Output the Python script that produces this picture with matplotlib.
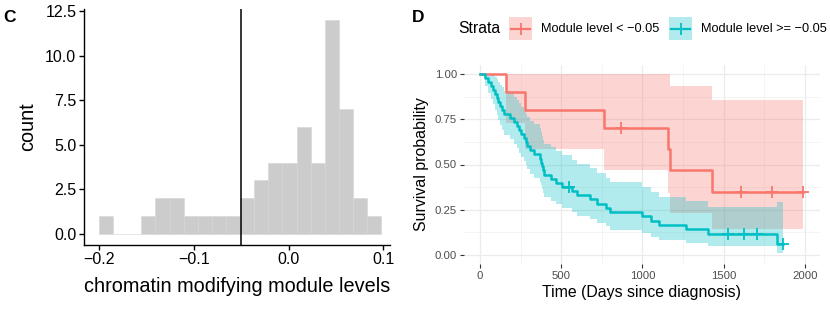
import numpy as np
import matplotlib
matplotlib.use("Agg")
import matplotlib.pyplot as plt
from matplotlib.patches import Rectangle
from matplotlib.lines import Line2D

plt.rcParams['font.family'] = ['Liberation Sans', 'DejaVu Sans']

# ---------------- Panel C data ----------------
hist_counts = [1, 0, 0, 1, 2, 2, 1, 1, 1, 1, 2, 3, 4, 4, 6, 4, 12, 7, 2, 1]
hist_min, hist_max = -0.2, 0.0977
threshold = -0.05
c_xticks = [-0.2, -0.1, 0.0, 0.1]
c_xticklabels = ['\u22120.2', '\u22120.1', '0.0', '0.1']
c_yticks = [0, 2.5, 5, 7.5, 10, 12.5]
c_yticklabels = ['0.0', '2.5', '5.0', '7.5', '10.0', '12.5']

# ---------------- Panel D data ----------------
low_times = [0, 160, 275, 765, 1159, 1171, 1430]
low_surv = [1.0, 0.9, 0.8, 0.7, 0.583, 0.467, 0.35]
low_upper = [1.0, 1.0, 1.0, 1.0, 1.0, 0.936, 0.858]
low_lower = [1.0, 0.732, 0.586, 0.467, 0.340, 0.233, 0.143]
low_censor = [870, 1608, 1795, 1990]

high_times = [0, 30, 50, 65, 80, 92, 103, 113, 123, 135, 150, 185, 210, 225, 240, 255, 268, 282,
              292, 305, 335, 372, 378, 383, 388, 393, 440, 470, 505, 565, 600, 675, 720, 775, 800,
              995, 1055, 1100, 1270, 1405, 1826]
high_surv = [1.0, 0.978, 0.956, 0.933, 0.911, 0.889, 0.867, 0.844, 0.822, 0.800, 0.778, 0.756,
             0.733, 0.711, 0.689, 0.667, 0.644, 0.622, 0.600, 0.578, 0.556, 0.533, 0.511, 0.489,
             0.467, 0.444, 0.422, 0.400, 0.378, 0.354, 0.331, 0.307, 0.283, 0.260, 0.236, 0.213,
             0.189, 0.165, 0.142, 0.118, 0.059]
high_upper = [1.0, 1.0, 1.0, 1.0, 0.998, 0.986, 0.972, 0.957, 0.942, 0.926, 0.909, 0.893, 0.874,
              0.857, 0.838, 0.820, 0.800, 0.781, 0.762, 0.742, 0.722, 0.700, 0.680, 0.659, 0.638,
              0.615, 0.594, 0.572, 0.550, 0.526, 0.503, 0.478, 0.453, 0.428, 0.402, 0.377, 0.350,
              0.322, 0.296, 0.267, 0.295]
high_lower = [1.0, 0.936, 0.897, 0.863, 0.832, 0.801, 0.773, 0.745, 0.718, 0.691, 0.665, 0.640,
              0.615, 0.590, 0.566, 0.543, 0.519, 0.495, 0.473, 0.450, 0.428, 0.406, 0.384, 0.363,
              0.342, 0.320, 0.300, 0.280, 0.260, 0.238, 0.218, 0.197, 0.177, 0.158, 0.138, 0.120,
              0.102, 0.084, 0.068, 0.052, 0.012]
high_censor = [550, 1528, 1626, 1707, 1862]

d_xticks = [0, 500, 1000, 1500, 2000]
d_yticks = [0.0, 0.25, 0.5, 0.75, 1.0]
d_yticklabels = ['0.00', '0.25', '0.50', '0.75', '1.00']
strata_labels = ['Module level < \u22120.05', 'Module level >= \u22120.05']
RED = '#F8766D'
TEAL = '#00BFC4'

W, H = 830, 312
fig = plt.figure(figsize=(W / 100, H / 100), dpi=100)

def fx(px):
    return px / W

def fy(py):
    return 1 - py / H

# ---------------- Panel C ----------------
axC = fig.add_axes([fx(84), fy(244.7), fx(390) - fx(84), fy(9.2) - fy(244.7)])
edges = np.linspace(hist_min, hist_max, len(hist_counts) + 1)
axC.bar(edges[:-1], hist_counts, width=np.diff(edges), align='edge',
        color='#CCCCCC', edgecolor='#D6D6D6', linewidth=0.4)
axC.axvline(threshold, color='black', lw=1.1)
axC.set_xlim(-0.2158, 0.107)
axC.set_ylim(-0.6, 12.6)
axC.set_xticks(c_xticks)
axC.set_xticklabels(c_xticklabels)
axC.set_yticks(c_yticks)
axC.set_yticklabels(c_yticklabels)
for s in ['top', 'right']:
    axC.spines[s].set_visible(False)
for s in ['left', 'bottom']:
    axC.spines[s].set_linewidth(1.0)
axC.tick_params(direction='out', length=3.5, width=1.0, labelsize=11.5, colors='black', pad=2)
axC.set_xlabel('chromatin modifying module levels', fontsize=14.3, labelpad=7)
axC.set_ylabel('count', fontsize=14.3, labelpad=6)
fig.text(fx(3), fy(17.5), 'C', fontsize=12.5, fontweight='bold', va='center', ha='left')

# ---------------- Panel D ----------------
axD = fig.add_axes([fx(463.8), fy(264), fx(819.5) - fx(463.8), fy(65) - fy(264)])
axD.set_xlim(-99.5, 2089.5)
axD.set_ylim(-0.05, 1.05)
for s in axD.spines.values():
    s.set_visible(False)
axD.set_xticks(d_xticks)
axD.set_yticks(d_yticks)
axD.set_yticklabels(d_yticklabels)
axD.set_xticks([250, 750, 1250, 1750], minor=True)
axD.set_yticks([0.125, 0.375, 0.625, 0.875], minor=True)
axD.grid(which='major', color='#EBEBEB', lw=0.9)
axD.grid(which='minor', color='#F0F0F0', lw=0.5)
axD.set_axisbelow(True)
axD.tick_params(which='major', direction='out', length=3, width=0.8, color='#333333',
                labelcolor='#4D4D4D', labelsize=8.2, pad=2)
axD.tick_params(which='minor', length=0)

def draw_curve(times, surv, upper, lower, censor, color):
    end = max(max(censor), max(times))
    t = np.append(times, end)
    s = np.append(surv, surv[-1])
    up = np.append(upper, upper[-1])
    lo = np.append(lower, lower[-1])
    axD.fill_between(t, lo, up, step='post', color=color, alpha=0.3, lw=0)
    return t, s

def draw_line(t, s, times, surv, censor, color):
    axD.step(t, s, where='post', color=color, lw=1.8)
    idx = np.searchsorted(times, censor, side='right') - 1
    axD.plot(censor, np.asarray(surv)[idx], ls='none', marker='+', ms=8, mew=1.3, color=color)

tl, sl = draw_curve(low_times, low_surv, low_upper, low_lower, low_censor, RED)
th, sh = draw_curve(high_times, high_surv, high_upper, high_lower, high_censor, TEAL)
draw_line(tl, sl, low_times, low_surv, low_censor, RED)
draw_line(th, sh, high_times, high_surv, high_censor, TEAL)

axD.set_xlabel('Time (Days since diagnosis)', fontsize=11.4, labelpad=3)
axD.set_ylabel('Survival probability', fontsize=11.4, labelpad=4)
fig.text(fx(412), fy(17.5), 'D', fontsize=12.5, fontweight='bold', va='center', ha='left')

# legend
yc = 28.5
fig.text(fx(458), fy(yc), 'Strata', fontsize=11.3, va='center', ha='left')
for x0, col, lab in [(509, RED, strata_labels[0]), (669, TEAL, strata_labels[1])]:
    fig.add_artist(Rectangle((fx(x0), fy(40)), fx(23), 23 / H, facecolor=col, alpha=0.3,
                             lw=0, transform=fig.transFigure))
    fig.add_artist(Line2D([fx(x0 + 2), fx(x0 + 21)], [fy(yc), fy(yc)], color=col, lw=1.6,
                          transform=fig.transFigure))
    fig.add_artist(Line2D([fx(x0 + 11.5)], [fy(yc)], color=col, marker='+', ms=8, mew=1.3,
                          ls='none', transform=fig.transFigure))
    fig.text(fx(x0 + 32), fy(yc), lab, fontsize=9.2, va='center', ha='left')

fig.savefig('out.png', dpi=100)
